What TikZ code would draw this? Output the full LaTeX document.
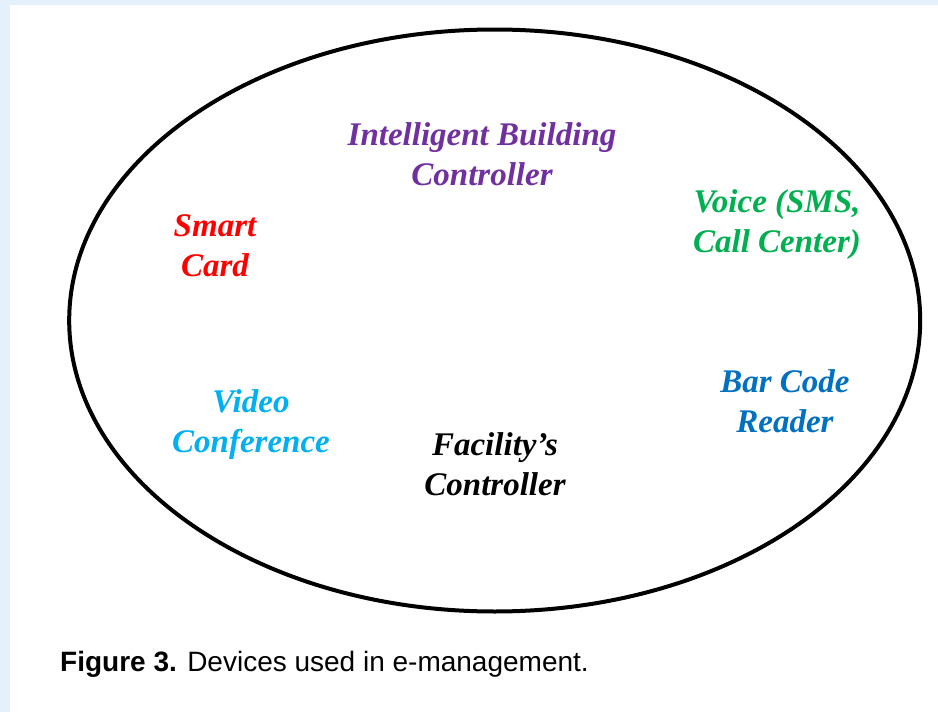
\documentclass[tikz,border=0pt]{standalone}
\usepackage{fontspec}
\usetikzlibrary{shapes.geometric}
\setmainfont{Liberation Serif}
\setsansfont{Liberation Sans}
\definecolor{bgblue}{HTML}{E4F0FB}
\definecolor{ibcpurple}{HTML}{7030A0}
\definecolor{smartred}{HTML}{FF0000}
\definecolor{voicegreen}{HTML}{00B050}
\definecolor{videoblue}{HTML}{00B0F0}
\definecolor{barblue}{HTML}{0070C0}
\begin{document}
\begin{tikzpicture}[x=1pt,y=-1pt,
  device/.style={font=\fontsize{33}{39.5}\selectfont\bfseries\itshape, align=center, anchor=base, inner sep=0pt},
  ring/.style={draw=black, line width=4pt}]
\useasboundingbox (0,0) rectangle (938,712);
\fill[bgblue] (0,0) rectangle (938,712);
\fill[white] (10,5) rectangle (938,712);
\node[ring, ellipse, minimum width=851pt, minimum height=582pt, inner sep=0pt] (world) at (494.7,320.5) {};
\node[device, text=ibcpurple] (ibc) at (482,185) {Intelligent Building\\Controller};
\node[device, text=smartred] (smart) at (215,276) {Smart\\Card};
\node[device, text=voicegreen] (voice) at (777,252) {Voice (SMS,\\Call Center)};
\node[device, text=videoblue] (video) at (251,452) {Video\\Conference};
\node[device, text=barblue] (bar) at (785,432) {Bar Code\\Reader};
\node[device, text=black] (fac) at (495,495) {Facility’s\\Controller};
\node[font=\sffamily\fontsize{28}{32}\selectfont, anchor=base west, inner sep=0pt] (cap) at (60,671) {\textbf{Figure 3.} Devices used in e-management.};
\end{tikzpicture}
\end{document}
